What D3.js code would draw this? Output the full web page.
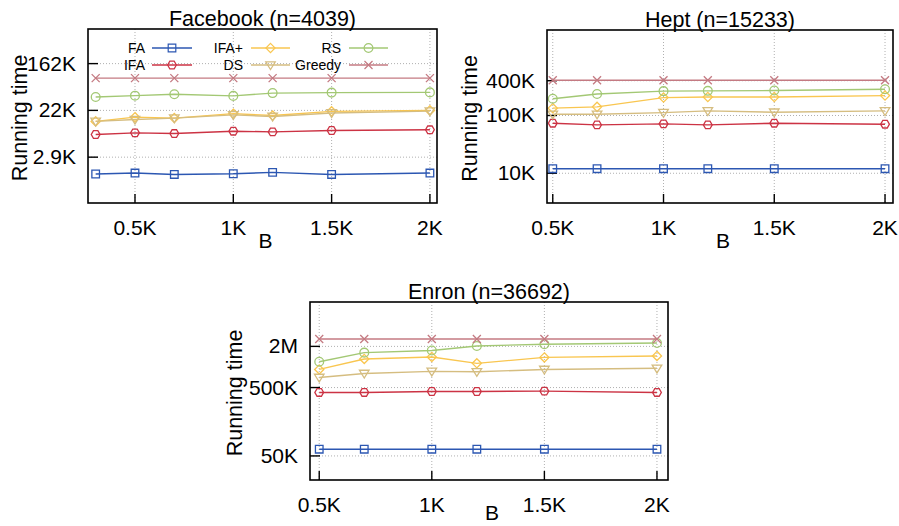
<!DOCTYPE html>
<html>
<head>
<meta charset="utf-8">
<script src="https://cdn.jsdelivr.net/npm/d3@7"></script>
<style>
  body { margin: 0; background: #fff; }
  svg text { font-family: "Liberation Sans", Arial, sans-serif; fill: #000; }
</style>
</head>
<body>
<svg id="chart" width="899" height="526"></svg>
<script>
// ---- data (running time vs budget B, in thousands) ----
var seriesNames = ["FA", "IFA", "IFA+", "DS", "RS", "Greedy"];

var fbB = [0.3, 0.5, 0.7, 1.0, 1.2, 1.5, 2.0];
var fbFA     = [1451, 1510, 1422, 1466, 1556, 1422, 1510];
var fbIFA    = [7863, 8433, 8184, 9045, 8778, 9320, 9604];
var fbIFAp   = [13767, 16481, 15835, 19145, 17674, 21159, 22026];
var fbDS     = [13767, 14913, 15835, 18212, 16983, 19728, 21376];
var fbRS     = [38948, 41357, 43914, 40946, 46166, 47098, 47572];
var fbGreedy = [87553, 87553, 87553, 87553, 87553, 87553, 87553];

var heptB = [0.5, 0.7, 1.0, 1.2, 1.5, 2.0];
var heptFA     = [12000, 12000, 12000, 12000, 12000, 12000];
var heptIFA    = [73600, 68700, 71600, 68700, 73600, 70700];
var heptIFAp   = [134000, 141000, 204000, 209000, 209000, 221000];
var heptDS     = [105000, 105000, 112000, 120000, 114000, 120000];
var heptRS     = [195000, 236000, 264000, 267000, 270000, 285000];
var heptGreedy = [407000, 407000, 407000, 407000, 407000, 407000];

var enronB = [0.5, 0.7, 1.0, 1.2, 1.5, 2.0];
var enronFA     = [62700, 62700, 62700, 62700, 62700, 62700];
var enronIFA    = [424000, 424000, 438000, 438000, 443000, 424000];
var enronIFAp   = [920000, 1310000, 1400000, 1130000, 1380000, 1450000];
var enronDS     = [703000, 804000, 861000, 851000, 920000, 956000];
var enronRS     = [1190000, 1620000, 1740000, 2030000, 2150000, 2240000];
var enronGreedy = [2570000, 2570000, 2570000, 2570000, 2570000, 2570000];

var xTicks = [0.5, 1, 1.5, 2];
var xTickLabels = ["0.5K", "1K", "1.5K", "2K"];
var fbYTicks = [Math.exp(8), Math.exp(10), Math.exp(12)];
var fbYLabels = ["2.9K", "22K", "162K"];
var heptYTicks = [10000, 100000, 400000];
var heptYLabels = ["10K", "100K", "400K"];
var enronYTicks = [50000, 500000, 2000000];
var enronYLabels = ["50K", "500K", "2M"];

// ---- styles ----
var colors = {
  "FA": "#2c57b2", "IFA": "#cc3344", "IFA+": "#f9c650",
  "DS": "#d5bd80", "RS": "#a3c874", "Greedy": "#c47a82"
};

var svg = d3.select("#chart");

// marker shapes, centred on 0,0
function markerPath(name) {
  if (name == "FA") return "M-3.8,-3.8H3.8V3.8H-3.8Z";
  if (name == "IFA") {
    var p = d3.path();
    for (var i = 0; i < 6; i++) {
      var a = Math.PI / 3 * i;
      var px = 4.4 * Math.cos(a), py = 4.4 * Math.sin(a);
      if (i == 0) p.moveTo(px, py); else p.lineTo(px, py);
    }
    p.closePath();
    return p.toString();
  }
  if (name == "IFA+") return "M0,-4.6L4.6,0L0,4.6L-4.6,0Z";
  if (name == "DS") return "M-4.8,-3.2H4.8L0,4.6Z";
  if (name == "RS") return d3.symbol(d3.symbolCircle, 60)();
  if (name == "Greedy") return "M-4,-4L4,4M-4,4L4,-4";
}

function drawPanel(cfg) {
  var x = d3.scaleLinear().domain(cfg.xDomain).range([cfg.left, cfg.right]);
  var y = d3.scaleLog().domain(cfg.yDomain).range([cfg.bottom, cfg.top]);
  var g = svg.append("g");

  // dotted grid
  g.selectAll(".gx").data(xTicks).enter().append("line")
    .attr("x1", function (d) { return x(d); }).attr("x2", function (d) { return x(d); })
    .attr("y1", cfg.top).attr("y2", cfg.bottom)
    .attr("stroke", "#b0b0b0").attr("stroke-width", 1).attr("stroke-dasharray", "1,2");
  g.selectAll(".gy").data(cfg.yTicks).enter().append("line")
    .attr("x1", cfg.left).attr("x2", cfg.right)
    .attr("y1", function (d) { return y(d); }).attr("y2", function (d) { return y(d); })
    .attr("stroke", "#b0b0b0").attr("stroke-width", 1).attr("stroke-dasharray", "1,2");

  // inward tick marks
  g.selectAll(".tx").data(xTicks).enter().append("line")
    .attr("x1", function (d) { return x(d); }).attr("x2", function (d) { return x(d); })
    .attr("y1", cfg.bottom).attr("y2", cfg.bottom - 9)
    .attr("stroke", "#000").attr("stroke-width", 1.4);
  g.selectAll(".ty").data(cfg.yTicks).enter().append("line")
    .attr("x1", cfg.left).attr("x2", cfg.left + 10)
    .attr("y1", function (d) { return y(d); }).attr("y2", function (d) { return y(d); })
    .attr("stroke", "#000").attr("stroke-width", 1.4);

  // tick labels
  g.selectAll(".lx").data(xTicks).enter().append("text")
    .attr("x", function (d) { return x(d); }).attr("y", cfg.bottom + 32)
    .attr("text-anchor", "middle").attr("font-size", 21)
    .text(function (d, i) { return xTickLabels[i]; });
  g.selectAll(".ly").data(cfg.yTicks).enter().append("text")
    .attr("x", cfg.left - 12).attr("y", function (d) { return y(d) + 7; })
    .attr("text-anchor", "end").attr("font-size", 21)
    .text(function (d, i) { return cfg.yLabels[i]; });

  // series
  var line = d3.line().x(function (d) { return x(d[0]); }).y(function (d) { return y(d[1]); });
  cfg.series.forEach(function (vals, k) {
    var name = seriesNames[k];
    var pts = cfg.xs.map(function (b, i) { return [b, vals[i]]; });
    g.append("path").datum(pts).attr("d", line)
      .attr("fill", "none").attr("stroke", colors[name]).attr("stroke-width", 1.4);
    g.selectAll(".m" + k).data(pts).enter().append("path")
      .attr("transform", function (d) { return "translate(" + x(d[0]) + "," + y(d[1]) + ")"; })
      .attr("d", markerPath(name))
      .attr("fill", "none").attr("stroke", colors[name]).attr("stroke-width", 1.3);
  });

  // frame
  g.append("rect").attr("x", cfg.left).attr("y", cfg.top)
    .attr("width", cfg.right - cfg.left).attr("height", cfg.bottom - cfg.top)
    .attr("fill", "none").attr("stroke", "#000").attr("stroke-width", 1.6);

  // titles
  g.append("text").attr("x", (cfg.left + cfg.right) / 2).attr("y", cfg.top - 3)
    .attr("text-anchor", "middle").attr("font-size", 21.5).text(cfg.title);
  g.append("text").attr("x", (cfg.left + cfg.right) / 2 + 3).attr("y", cfg.bLabelY)
    .attr("text-anchor", "middle").attr("font-size", 21).text("B");
  g.append("text")
    .attr("transform", "translate(" + cfg.yLabelX + "," + ((cfg.top + cfg.bottom) / 2 + 2) + ") rotate(-90)")
    .attr("text-anchor", "middle").attr("font-size", 21.5).text("Running time");
}

drawPanel({
  title: "Facebook (n=4039)", left: 88, right: 437, top: 29, bottom: 203,
  xDomain: [0.261, 2.036], yDomain: [Math.exp(6.04), Math.exp(13.48)],
  yTicks: fbYTicks, yLabels: fbYLabels, yLabelX: 27, bLabelY: 248, xs: fbB,
  series: [fbFA, fbIFA, fbIFAp, fbDS, fbRS, fbGreedy]
});
drawPanel({
  title: "Hept (n=15233)", left: 547, right: 893, top: 30, bottom: 203,
  xDomain: [0.474, 2.036], yDomain: [Math.pow(10, 3.485), Math.pow(10, 6.48)],
  yTicks: heptYTicks, yLabels: heptYLabels, yLabelX: 477, bLabelY: 248, xs: heptB,
  series: [heptFA, heptIFA, heptIFAp, heptDS, heptRS, heptGreedy]
});
drawPanel({
  title: "Enron (n=36692)", left: 310, right: 668, top: 302, bottom: 480,
  xDomain: [0.459, 2.049], yDomain: [Math.pow(10, 4.347), Math.pow(10, 6.95)],
  yTicks: enronYTicks, yLabels: enronYLabels, yLabelX: 242, bLabelY: 520, xs: enronB,
  series: [enronFA, enronIFA, enronIFAp, enronDS, enronRS, enronGreedy]
});

// legend (Facebook panel only)
var legendCols = [[145, 152, 192], [243, 251, 290], [341, 349, 388]];
var legendRows = [48, 65];
var legendOrder = [["FA", "IFA"], ["IFA+", "DS"], ["RS", "Greedy"]];
legendOrder.forEach(function (col, c) {
  col.forEach(function (name, r) {
    var ly = legendRows[r], lc = legendCols[c];
    svg.append("text").attr("x", lc[0]).attr("y", ly + 5)
      .attr("text-anchor", "end").attr("font-size", 14).text(name);
    svg.append("line").attr("x1", lc[1]).attr("x2", lc[2]).attr("y1", ly).attr("y2", ly)
      .attr("stroke", colors[name]).attr("stroke-width", 1.3);
    svg.append("path").attr("transform", "translate(" + ((lc[1] + lc[2]) / 2) + "," + ly + ")")
      .attr("d", markerPath(name))
      .attr("fill", "none").attr("stroke", colors[name]).attr("stroke-width", 1.2);
  });
});
</script>
</body>
</html>
